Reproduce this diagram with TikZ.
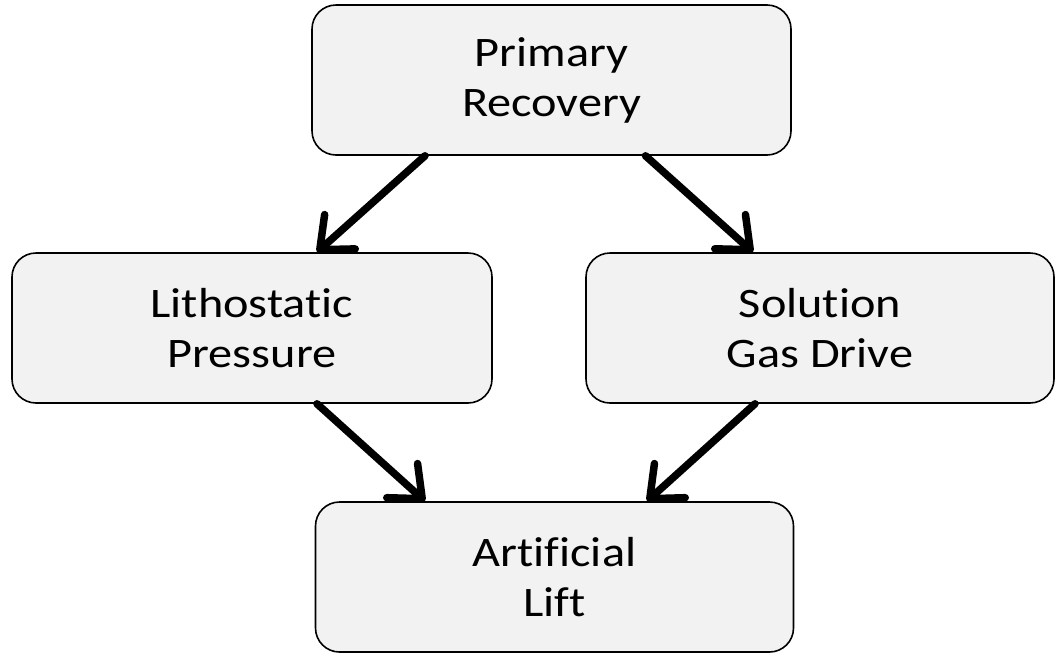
\documentclass[tikz,border=0pt]{standalone}
\usepackage{fontspec}
\setmainfont{Carlito}[FakeStretch=1.15, Ligatures=NoCommon]
\usetikzlibrary{positioning,arrows.meta}

\tikzset{
    stagebox/.style={draw=black, line width=1.6pt, fill=gray!10, rounded corners=24pt,
        minimum height=150pt, inner sep=0pt, align=center,
        font=\fontsize{42}{50}\selectfont},
    flowarrow/.style={line width=7.5pt, line cap=round,
        -{Straight Barb[length=27pt, width=46pt, round]}}
}

\begin{document}
\begin{tikzpicture}[x=1pt, y=-1pt]
    \useasboundingbox (0,0) rectangle (1056,654);

    % Boxes
    \node[stagebox, minimum width=479pt] (primary) at (551.5,80) {Primary\\Recovery};
    \node[stagebox, minimum width=480pt] (litho) at (252,328) {Lithostatic\\Pressure};
    \node[stagebox, minimum width=468pt] (solution) at (820,328) {Solution\\Gas Drive};
    \node[stagebox, minimum width=478pt] (lift) at (554.5,577) {Artificial\\Lift};

    % Arrows
    \draw[flowarrow] ([xshift=-126.5pt]primary.south) -- ([xshift=65pt]litho.north);
    \draw[flowarrow] ([xshift=94pt]primary.south) -- ([xshift=-67pt]solution.north);
    \draw[flowarrow] ([xshift=65pt]litho.south) -- ([xshift=-129.5pt]lift.north);
    \draw[flowarrow] ([xshift=-65pt]solution.south) -- ([xshift=92.5pt]lift.north);
\end{tikzpicture}
\end{document}
